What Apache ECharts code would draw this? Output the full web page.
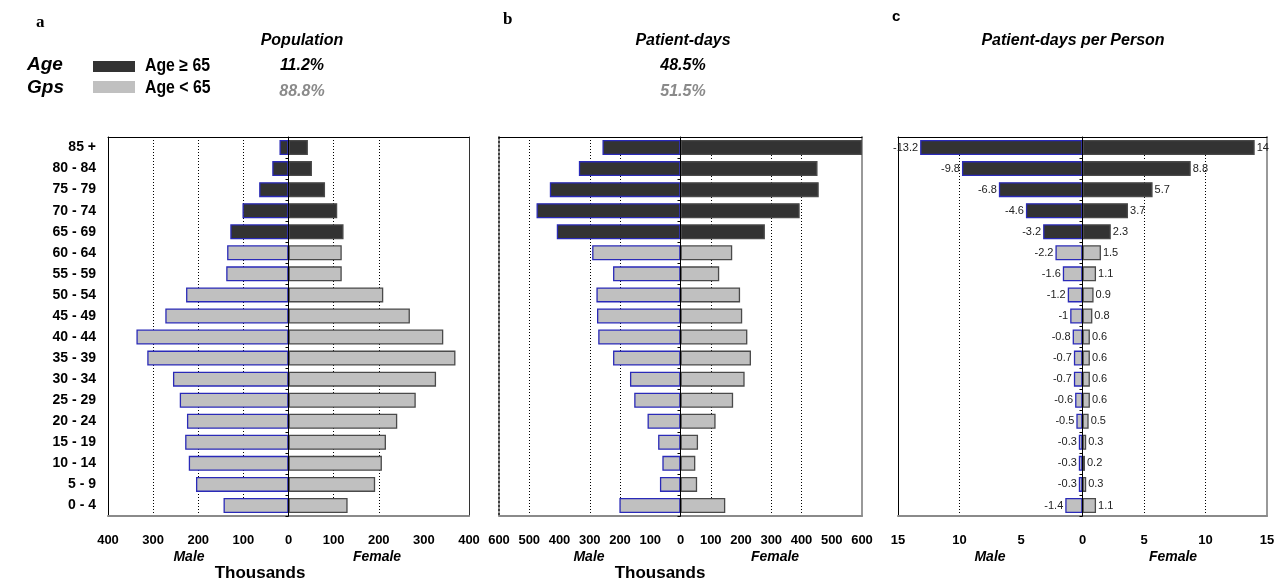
<!DOCTYPE html>
<html>
<head>
<meta charset="utf-8">
<script src="https://cdn.jsdelivr.net/npm/echarts@6/dist/echarts.min.js"></script>
<style>
html,body{margin:0;padding:0;background:#fff;}
#chart{width:1275px;height:582px;}
</style>
</head>
<body>
<div id="chart"></div>
<script>
// ---------- data ----------
const categories = ['85 +','80 - 84','75 - 79','70 - 74','65 - 69','60 - 64','55 - 59','50 - 54','45 - 49',
  '40 - 44','35 - 39','30 - 34','25 - 29','20 - 24','15 - 19','10 - 14','5 - 9','0 - 4'];
// Population (thousands)
const popMale   = [20,36,65,102,129,136,138,227,273,337,313,256,241,225,229,221,205,144];
const popFemale = [43,52,81,108,122,118,118,210,269,343,370,327,282,241,216,207,192,131];
// Patient-days (thousands)
const pdMale    = [258,336,432,476,409,292,223,278,276,272,223,167,153,109,74,60,68,202];
const pdFemale  = [600,453,457,394,279,171,128,197,204,221,233,212,174,116,58,49,55,148];
// Patient-days per person
const ppMale    = [13.2,9.8,6.8,4.6,3.2,2.2,1.6,1.2,1,0.8,0.7,0.7,0.6,0.5,0.3,0.3,0.3,1.4];
const ppFemale  = [14,8.8,5.7,3.7,2.3,1.5,1.1,0.9,0.8,0.6,0.6,0.6,0.6,0.5,0.3,0.2,0.3,1.1];
// Shares
const popShare = ['11.2%','88.8%'];
const pdShare  = ['48.5%','51.5%'];

// ---------- styles ----------
const DARK = '#333333', LIGHT = '#c0c0c0';
const MALE_BORDER = '#2a2ab8', FEMALE_BORDER = '#4a4a4a';
const T = 'rgba(0,0,0,0)', K = '#000';
const SANS = '"Liberation Sans",Arial,sans-serif';
const isOld = idx => parseInt(categories[idx], 10) >= 65;

const panels = [
  {left:108, width:361, min:-400, max:400, interval:100, male:popMale, female:popFemale,
   grid:[T,K,K,K,T,K,K,T,T], labels:true, leftLine:{color:'#000',width:1,type:'solid'}, rightLine:{color:'#333',width:1}, valueLabels:false},
  {left:499, width:363, min:-600, max:600, interval:100, male:pdMale, female:pdFemale,
   grid:[T,K,T,K,K,T,T,K,T,K,K,T,T], labels:false, leftLine:{color:'#000',width:1.5,type:[2,2]}, rightLine:{color:'#999',width:2}, valueLabels:false},
  {left:898, width:369, min:-15, max:15, interval:5, male:ppMale, female:ppFemale,
   grid:[T,K,T,T,K,K,T], labels:false, leftLine:{color:'#000',width:1,type:'solid'}, rightLine:{color:'#999',width:2}, valueLabels:true}
];

const grids = [], xAxes = [], yAxes = [], series = [];
panels.forEach((p, i) => {
  grids.push({left:p.left, top:137, width:p.width, height:379, containLabel:false, outerBoundsMode:'none'});
  const bottomIdx = xAxes.length;
  xAxes.push({
    type:'value', gridIndex:i, min:p.min, max:p.max, interval:p.interval, position:'bottom',
    axisLine:{show:true, onZero:false, lineStyle:{color:'#8a8a8a', width:2}},
    axisTick:{show:false},
    axisLabel:{margin:18, color:'#000', fontFamily:SANS, fontWeight:'bold', fontSize:13,
      formatter:v => String(Math.abs(v))},
    splitLine:{show:true, lineStyle:{color:p.grid, width:1, type:[1,2]}}
  });
  xAxes.push({
    type:'value', gridIndex:i, min:p.min, max:p.max, interval:p.interval, position:'top',
    axisLine:{show:true, onZero:false, lineStyle:{color:'#000', width:1}},
    axisTick:{show:false}, axisLabel:{show:false}, splitLine:{show:false}
  });
  const labelIdx = yAxes.length;
  yAxes.push({
    type:'category', gridIndex:i, data:categories, inverse:true, position:'left',
    axisLine:{show:true, onZero:false, lineStyle:p.leftLine},
    axisTick:{show:false},
    axisLabel:{show:p.labels, margin:12, color:'#000', fontFamily:SANS, fontWeight:'bold', fontSize:14},
    splitLine:{show:false}
  });
  yAxes.push({
    type:'category', gridIndex:i, data:categories, inverse:true, position:'left', z:5,
    axisLine:{show:true, onZero:true, onZeroAxisIndex:bottomIdx, lineStyle:{color:'#000', width:1}},
    axisTick:{show:true, length:3, lineStyle:{color:'#000'}},
    axisLabel:{show:false}, splitLine:{show:false}
  });
  yAxes.push({
    type:'category', gridIndex:i, data:categories, inverse:true, position:'right',
    axisLine:{show:true, onZero:false, lineStyle:p.rightLine},
    axisTick:{show:false}, axisLabel:{show:false}, splitLine:{show:false}
  });
  const common = {type:'bar', xAxisIndex:bottomIdx, yAxisIndex:labelIdx, barWidth:15, barGap:'-100%', z:3};
  series.push(Object.assign({}, common, {
    name:'Male', data:p.male.map(v => -v),
    itemStyle:{borderColor:MALE_BORDER, borderWidth:1.3, color:pr => isOld(pr.dataIndex) ? DARK : LIGHT},
    label:{show:p.valueLabels, position:'left', distance:2, color:'#222', fontFamily:SANS, fontSize:11,
      formatter:pr => String(pr.value)}
  }));
  series.push(Object.assign({}, common, {
    name:'Female', data:p.female.slice(),
    itemStyle:{borderColor:FEMALE_BORDER, borderWidth:1.3, color:pr => isOld(pr.dataIndex) ? DARK : LIGHT},
    label:{show:p.valueLabels, position:'right', distance:2, color:'#222', fontFamily:SANS, fontSize:11,
      formatter:pr => String(pr.value)}
  }));
});

function txt(text, x, y, font, fill, align, sx) {
  return {type:'text', x:x, y:y, z:10, silent:true, scaleX:sx || 1,
    style:{text:text, font:font, fill:fill || '#000', align:align || 'center', verticalAlign:'middle'}};
}
const BI16 = 'italic bold 16px ' + SANS;
const graphics = [
  txt('a', 36, 23, 'bold 17px "Liberation Serif",serif', '#000', 'left'),
  txt('b', 503, 20, 'bold 17px "Liberation Serif",serif', '#000', 'left'),
  txt('c', 892, 17, 'bold 15px ' + SANS, '#000', 'left'),
  txt('Population', 302, 41, BI16),
  txt(popShare[0], 302, 66, BI16),
  txt(popShare[1], 302, 92, BI16, '#8a8a8a'),
  txt('Patient-days', 683, 41, BI16),
  txt(pdShare[0], 683, 66, BI16),
  txt(pdShare[1], 683, 92, BI16, '#8a8a8a'),
  txt('Patient-days per Person', 1073, 41, BI16),
  txt('Age', 27, 65, 'italic bold 19px ' + SANS, '#000', 'left'),
  txt('Gps', 27, 88, 'italic bold 19px ' + SANS, '#000', 'left'),
  {type:'rect', x:93, y:61, shape:{width:42, height:11}, style:{fill:DARK}, silent:true},
  {type:'rect', x:93, y:81, shape:{width:42, height:12}, style:{fill:LIGHT}, silent:true},
  txt('Age \u2265 65', 145, 66, 'bold 18px ' + SANS, '#000', 'left', 0.88),
  txt('Age < 65', 145, 88, 'bold 18px ' + SANS, '#000', 'left', 0.88),
  txt('Male', 189, 557, 'italic bold 14px ' + SANS),
  txt('Female', 377, 557, 'italic bold 14px ' + SANS),
  txt('Thousands', 260, 573, 'bold 17px ' + SANS),
  txt('Male', 589, 557, 'italic bold 14px ' + SANS),
  txt('Female', 775, 557, 'italic bold 14px ' + SANS),
  txt('Thousands', 660, 573, 'bold 17px ' + SANS),
  txt('Male', 990, 557, 'italic bold 14px ' + SANS),
  txt('Female', 1173, 557, 'italic bold 14px ' + SANS)
];

const chart = echarts.init(document.getElementById('chart'), null, {renderer:'canvas'});
chart.setOption({
  animation:false,
  backgroundColor:'#fff',
  grid:grids, xAxis:xAxes, yAxis:yAxes, series:series,
  graphic:{elements:graphics}
});
</script>
</body>
</html>
